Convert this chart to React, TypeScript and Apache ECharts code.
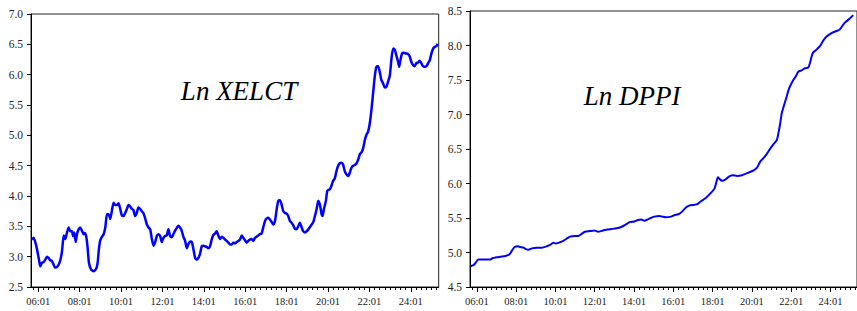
import React, { useEffect, useRef } from "react";
import * as echarts from "echarts";

// Ln XELCT (decimal year, value)
const xelctYears = [
  2005.70, 2005.78, 2005.91, 2006.02, 2006.10, 2006.18, 2006.26, 2006.34, 2006.42, 2006.50,
  2006.58, 2006.66, 2006.74, 2006.81, 2006.90, 2006.99, 2007.07, 2007.15, 2007.23, 2007.31,
  2007.39, 2007.47, 2007.55, 2007.63, 2007.68, 2007.74, 2007.81, 2007.87, 2007.95, 2008.03,
  2008.11, 2008.19, 2008.24, 2008.32, 2008.38, 2008.45, 2008.55, 2008.67, 2008.80, 2008.87,
  2008.93, 2008.99, 2009.08, 2009.16, 2009.24, 2009.32, 2009.40, 2009.48, 2009.56, 2009.64,
  2009.72, 2009.80, 2009.88, 2009.96, 2010.04, 2010.12, 2010.20, 2010.28, 2010.36, 2010.44,
  2010.52, 2010.60, 2010.68, 2010.76, 2010.84, 2010.92, 2011.00, 2011.08, 2011.16, 2011.25,
  2011.33, 2011.41, 2011.49, 2011.57, 2011.65, 2011.73, 2011.81, 2011.89, 2011.97, 2012.05,
  2012.13, 2012.21, 2012.29, 2012.37, 2012.45, 2012.53, 2012.61, 2012.69, 2012.77, 2012.85,
  2012.93, 2013.01, 2013.09, 2013.18, 2013.26, 2013.34, 2013.42, 2013.50, 2013.58, 2013.66,
  2013.74, 2013.82, 2013.90, 2013.98, 2014.06, 2014.14, 2014.22, 2014.30, 2014.38, 2014.46,
  2014.54, 2014.62, 2014.70, 2014.78, 2014.87, 2014.95, 2015.03, 2015.11, 2015.19, 2015.27,
  2015.35, 2015.43, 2015.51, 2015.59, 2015.67, 2015.75, 2015.83, 2015.91, 2015.99, 2016.07,
  2016.15, 2016.23, 2016.31, 2016.39, 2016.47, 2016.55, 2016.63, 2016.71, 2016.79, 2016.87,
  2016.96, 2017.04, 2017.12, 2017.20, 2017.28, 2017.36, 2017.44, 2017.52, 2017.60, 2017.68,
  2017.76, 2017.84, 2017.92, 2018.00, 2018.08, 2018.16, 2018.24, 2018.32, 2018.40, 2018.48,
  2018.56, 2018.64, 2018.72, 2018.80, 2018.88, 2018.97, 2019.05, 2019.13, 2019.21, 2019.29,
  2019.37, 2019.45, 2019.53, 2019.61, 2019.69, 2019.74, 2019.80, 2019.90, 2019.96, 2020.01,
  2020.09, 2020.17, 2020.25, 2020.33, 2020.41, 2020.49, 2020.57, 2020.65, 2020.73, 2020.81,
  2020.89, 2020.98, 2021.06, 2021.14, 2021.22, 2021.30, 2021.38, 2021.46, 2021.54, 2021.62,
  2021.70, 2021.78, 2021.86, 2021.94, 2022.02, 2022.10, 2022.18, 2022.26, 2022.34, 2022.42,
  2022.50, 2022.58, 2022.66, 2022.74, 2022.82, 2022.90, 2022.99, 2023.07, 2023.15, 2023.23,
  2023.31, 2023.39, 2023.44, 2023.50, 2023.58, 2023.66, 2023.76, 2023.87, 2023.95, 2024.03,
  2024.11, 2024.19, 2024.27, 2024.35, 2024.43, 2024.51, 2024.59, 2024.67, 2024.76, 2024.84,
  2024.92, 2025.00, 2025.08, 2025.16, 2025.24, 2025.30,
];
const xelctValues = [
  3.28, 3.31, 3.17, 2.98, 2.84, 2.90, 2.91, 2.95, 3.00, 2.98,
  2.94, 2.93, 2.87, 2.82, 2.83, 2.87, 2.95, 3.09, 3.35, 3.29,
  3.40, 3.48, 3.42, 3.42, 3.34, 3.40, 3.24, 3.37, 3.45, 3.48,
  3.43, 3.37, 3.39, 3.33, 3.17, 2.90, 2.79, 2.76, 2.80, 2.90,
  3.12, 3.26, 3.33, 3.37, 3.48, 3.70, 3.70, 3.62, 3.76, 3.89,
  3.85, 3.85, 3.88, 3.79, 3.68, 3.67, 3.72, 3.78, 3.85, 3.83,
  3.79, 3.77, 3.67, 3.72, 3.81, 3.79, 3.75, 3.72, 3.64, 3.53,
  3.48, 3.45, 3.29, 3.18, 3.24, 3.34, 3.37, 3.34, 3.24, 3.31,
  3.34, 3.35, 3.45, 3.34, 3.32, 3.37, 3.43, 3.47, 3.51, 3.48,
  3.43, 3.33, 3.27, 3.14, 3.21, 3.25, 3.24, 3.12, 2.98, 2.95,
  2.98, 3.05, 3.17, 3.18, 3.17, 3.16, 3.14, 3.17, 3.28, 3.36,
  3.38, 3.42, 3.35, 3.29, 3.33, 3.31, 3.28, 3.26, 3.23, 3.20,
  3.20, 3.23, 3.22, 3.24, 3.26, 3.28, 3.35, 3.31, 3.27, 3.23,
  3.26, 3.28, 3.29, 3.26, 3.31, 3.33, 3.35, 3.37, 3.38, 3.48,
  3.59, 3.63, 3.64, 3.61, 3.57, 3.53, 3.59, 3.78, 3.92, 3.93,
  3.86, 3.75, 3.72, 3.71, 3.67, 3.59, 3.56, 3.52, 3.46, 3.45,
  3.50, 3.56, 3.49, 3.42, 3.40, 3.42, 3.45, 3.49, 3.53, 3.57,
  3.67, 3.78, 3.92, 3.86, 3.70, 3.67, 3.78, 3.92, 4.08, 4.10,
  4.11, 4.17, 4.25, 4.29, 4.41, 4.50, 4.54, 4.55, 4.52, 4.41,
  4.36, 4.33, 4.39, 4.47, 4.50, 4.51, 4.54, 4.60, 4.69, 4.72,
  4.79, 4.92, 5.01, 5.06, 5.20, 5.42, 5.69, 5.97, 6.13, 6.14,
  6.05, 5.91, 5.86, 5.79, 5.80, 5.88, 5.99, 6.27, 6.43, 6.41,
  6.31, 6.21, 6.13, 6.24, 6.35, 6.36, 6.35, 6.34, 6.30, 6.21,
  6.16, 6.14, 6.19, 6.20, 6.23, 6.19, 6.14, 6.13, 6.14, 6.19,
  6.24, 6.35, 6.43, 6.46, 6.47, 6.51,
];

// Ln DPPI (decimal year, value)
const dppiYears = [
  2005.68, 2005.85, 2005.93, 2006.07, 2006.19, 2006.44, 2006.69, 2006.81, 2006.98, 2007.20,
  2007.45, 2007.65, 2007.79, 2007.92, 2008.09, 2008.21, 2008.38, 2008.49, 2008.63, 2008.80,
  2009.05, 2009.30, 2009.56, 2009.72, 2009.89, 2010.01, 2010.15, 2010.40, 2010.57, 2010.74,
  2010.99, 2011.16, 2011.33, 2011.50, 2011.75, 2012.00, 2012.17, 2012.42, 2012.59, 2012.84,
  2013.10, 2013.35, 2013.60, 2013.77, 2014.02, 2014.19, 2014.36, 2014.53, 2014.70, 2014.86,
  2015.03, 2015.29, 2015.45, 2015.62, 2015.88, 2016.04, 2016.30, 2016.47, 2016.63, 2016.80,
  2017.06, 2017.22, 2017.39, 2017.65, 2017.90, 2018.10, 2018.20, 2018.27, 2018.37, 2018.49,
  2018.66, 2018.83, 2019.01, 2019.25, 2019.50, 2019.67, 2019.84, 2020.09, 2020.26, 2020.43,
  2020.60, 2020.76, 2020.90, 2021.10, 2021.27, 2021.35, 2021.44, 2021.52, 2021.61, 2021.74,
  2021.86, 2021.94, 2022.11, 2022.25, 2022.36, 2022.53, 2022.70, 2022.87, 2022.95, 2023.04,
  2023.12, 2023.29, 2023.46, 2023.63, 2023.80, 2024.05, 2024.30, 2024.47, 2024.64, 2024.81,
  2024.98, 2025.16,
];
const dppiValues = [
  4.80, 4.82, 4.85, 4.90, 4.90, 4.90, 4.90, 4.92, 4.93, 4.94,
  4.95, 4.97, 5.03, 5.08, 5.09, 5.08, 5.07, 5.05, 5.04, 5.06,
  5.07, 5.07, 5.09, 5.11, 5.14, 5.13, 5.14, 5.17, 5.20, 5.23,
  5.24, 5.24, 5.27, 5.30, 5.31, 5.32, 5.30, 5.32, 5.33, 5.34,
  5.35, 5.37, 5.41, 5.44, 5.45, 5.47, 5.48, 5.46, 5.48, 5.50,
  5.52, 5.53, 5.52, 5.51, 5.52, 5.54, 5.56, 5.60, 5.65, 5.68,
  5.69, 5.70, 5.74, 5.79, 5.86, 5.93, 6.03, 6.09, 6.06, 6.04,
  6.06, 6.10, 6.12, 6.11, 6.12, 6.14, 6.16, 6.19, 6.23, 6.32,
  6.37, 6.43, 6.49, 6.57, 6.63, 6.73, 6.87, 7.02, 7.11, 7.23,
  7.35, 7.41, 7.50, 7.56, 7.62, 7.64, 7.67, 7.68, 7.74, 7.84,
  7.90, 7.94, 7.99, 8.07, 8.13, 8.18, 8.21, 8.23, 8.30, 8.35,
  8.39, 8.44,
];

const xRange = [2005.65, 2025.35];
const xelctRange = [2.5, 7.0];
const dppiRange = [4.5, 8.5];
const titles = ["Ln XELCT", "Ln DPPI"];
// x-axis labels (year:month) shown at January of these years
const labelYears = [2006, 2008, 2010, 2012, 2014, 2016, 2018, 2020, 2022, 2024];
// minor ticks: every quarter (Jan, Apr, Jul, Oct)
const quarterTicks: number[] = [];
for (let y = 2005; y <= 2025; y++) {
  for (const q of [0, 0.25, 0.5, 0.75]) {
    const v = y + q;
    if (v > xRange[0] && v < xRange[1]) quarterTicks.push(v);
  }
}

const SERIF = "'Liberation Serif', 'Times New Roman', serif";
const fmtX = (v: number) => String(Math.round(v) % 100).padStart(2, "0") + ":01";

function minorX(gridIndex: number) {
  return {
    type: "value",
    gridIndex,
    position: "bottom",
    min: xRange[0],
    max: xRange[1],
    splitLine: { show: false },
    axisLine: { show: true, onZero: false, lineStyle: { color: "#000", width: 1 } },
    axisTick: { show: true, inside: false, length: 3, customValues: quarterTicks, lineStyle: { color: "#000" } },
    axisLabel: { show: false },
  };
}
function majorX(gridIndex: number) {
  return {
    type: "value",
    gridIndex,
    position: "bottom",
    offset: 0,
    min: xRange[0],
    max: xRange[1],
    splitLine: { show: false },
    axisLine: { show: false, onZero: false },
    axisTick: { show: true, inside: false, length: 5, customValues: labelYears, lineStyle: { color: "#000" } },
    axisLabel: {
      show: true,
      margin: 9,
      customValues: labelYears,
      formatter: fmtX,
      color: "#222",
      fontFamily: SERIF,
      fontSize: 10.5,
    },
  };
}
function yAx(gridIndex: number, r: number[]) {
  return {
    type: "value",
    gridIndex,
    position: "left",
    min: r[0],
    max: r[1],
    interval: 0.5,
    splitLine: { show: false },
    axisLine: { show: true, onZero: false, lineStyle: { color: "#000", width: 1 } },
    axisTick: { show: true, inside: false, length: 4, lineStyle: { color: "#000" } },
    axisLabel: {
      margin: 8,
      color: "#222",
      fontFamily: SERIF,
      fontSize: 11.5,
      formatter: (v: number) => v.toFixed(1),
    },
  };
}

export default function App() {
  const ref = useRef<HTMLDivElement>(null);
  useEffect(() => {
    if (!ref.current) return;
    const chart = echarts.init(ref.current, null, { renderer: "svg" });
    chart.setOption({
      animation: false,
      backgroundColor: "#fff",
      textStyle: { fontFamily: SERIF },
      grid: [
        { left: 31, top: 14, width: 407.7, height: 273, show: true, borderColor: "#222", borderWidth: 1, containLabel: false },
        { left: 470, top: 11, width: 389.7, height: 276, show: true, borderColor: "#222", borderWidth: 1, containLabel: false },
      ],
      xAxis: [minorX(0), majorX(0), minorX(1), majorX(1)],
      yAxis: [yAx(0, xelctRange), yAx(1, dppiRange)],
      series: [
        {
          type: "line",
          xAxisIndex: 0,
          yAxisIndex: 0,
          data: xelctYears.map((t, i) => [t, xelctValues[i]]),
          symbol: "none",
          smooth: 0.2,
          lineStyle: { color: "#0000ff", width: 2.5 },
        },
        {
          type: "line",
          xAxisIndex: 2,
          yAxisIndex: 1,
          data: dppiYears.map((t, i) => [t, dppiValues[i]]),
          symbol: "none",
          smooth: 0.2,
          lineStyle: { color: "#0000ff", width: 2 },
        },
      ],
      graphic: [
        {
          type: "text",
          x: 239,
          y: 91,
          style: {
            text: titles[0],
            font: "italic 27px 'Liberation Serif'",
            fill: "#000",
            align: "center",
            textAlign: "center",
            verticalAlign: "middle",
            textVerticalAlign: "middle",
          },
        },
        {
          type: "text",
          x: 632,
          y: 96,
          style: {
            text: titles[1],
            font: "italic 27px 'Liberation Serif'",
            fill: "#000",
            align: "center",
            textAlign: "center",
            verticalAlign: "middle",
            textVerticalAlign: "middle",
          },
        },
      ],
    });
    return () => chart.dispose();
  }, []);
  return (
    <div
      ref={ref}
      style={{ position: "fixed", left: 0, top: 0, width: 857, height: 311, background: "#fff" }}
    />
  );
}
